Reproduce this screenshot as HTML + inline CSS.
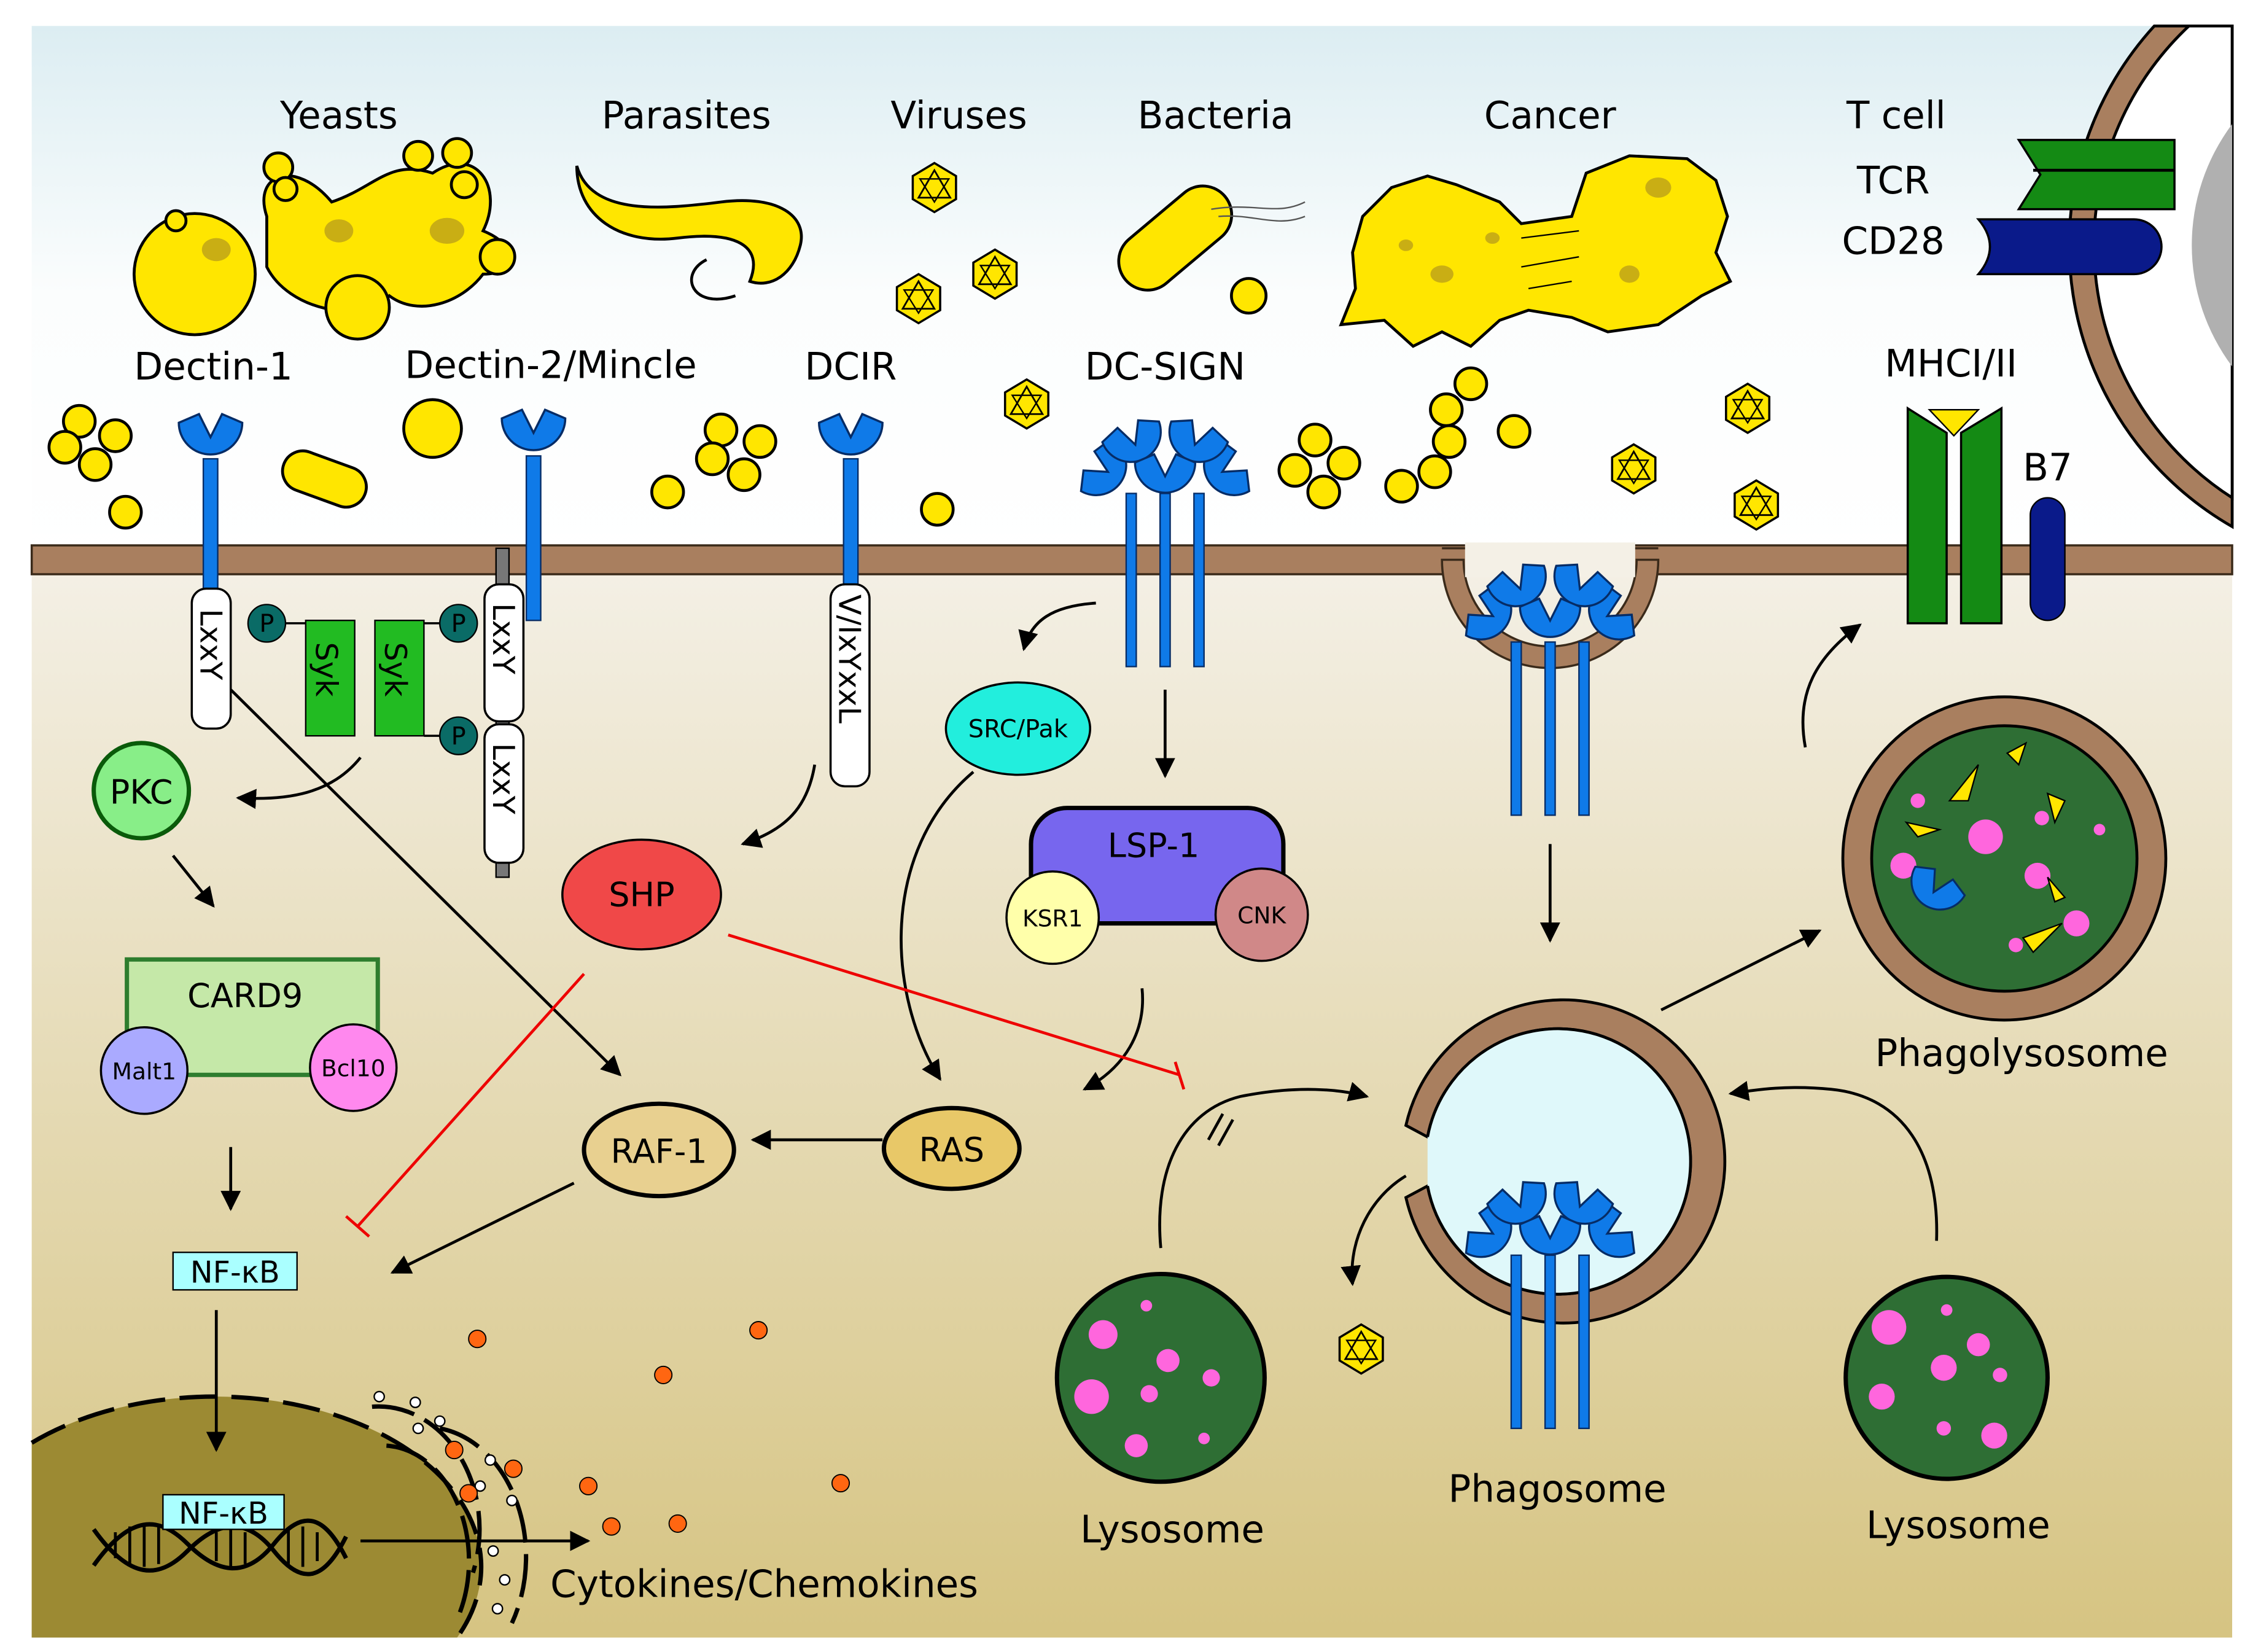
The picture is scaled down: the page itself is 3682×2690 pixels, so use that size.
<!DOCTYPE html>
<html><head><meta charset="utf-8"><style>
html,body{margin:0;padding:0;background:#fff;width:3682px;height:2690px;overflow:hidden;}
svg{display:block;}
text{font-family:"DejaVu Sans","Liberation Sans",sans-serif;}
</style></head><body>
<svg width="3682" height="2690" viewBox="0 0 1568 1145" preserveAspectRatio="none" xmlns="http://www.w3.org/2000/svg">
<defs>
<linearGradient id="top" x1="0" y1="0" x2="0" y2="1"><stop offset="0" stop-color="#dcedf2"/><stop offset="0.5" stop-color="#fbfdfd"/><stop offset="1" stop-color="#ffffff"/></linearGradient>
<linearGradient id="cyt" x1="0" y1="0" x2="0" y2="1"><stop offset="0" stop-color="#f4f0e6"/><stop offset="1" stop-color="#d6c482"/></linearGradient>
<marker id="ah" viewBox="0 0 10 10" refX="9" refY="5" markerWidth="7" markerHeight="7" orient="auto"><path d="M0,0L10,5L0,10z" fill="#000"/></marker>
<g id="vir"><polygon points="0,-17 15,-8 15,8 0,17 -15,8 -15,-8" fill="#ffe600" stroke="#000" stroke-width="1.5"/><polygon points="0,-12 11,7 -11,7" fill="none" stroke="#000" stroke-width="1.2"/><polygon points="0,10 -10,-6 10,-6" fill="none" stroke="#000" stroke-width="1"/></g>
<g id="head"><path d="M-22,-12 L-8,-18 L0,-2 L8,-18 L22,-12 A22,22 0 1 1 -22,-12z" fill="#0f7ae8" stroke="#062c66" stroke-width="1.5"/></g>
<g id="stem3"><rect x="-27" y="0" width="7" height="120" fill="#0f7ae8" stroke="#062c66"/><rect x="-3.5" y="0" width="7" height="120" fill="#0f7ae8" stroke="#062c66"/><rect x="20" y="0" width="7" height="120" fill="#0f7ae8" stroke="#062c66"/></g>
<g id="cluster"><use href="#head" transform="translate(-38,18) rotate(-60) scale(0.95)"/><use href="#head" transform="translate(38,18) rotate(60) scale(0.95)"/><use href="#head" transform="translate(-20,0) rotate(-20) scale(0.95)"/><use href="#head" transform="translate(20,0) rotate(20) scale(0.95)"/><use href="#head" transform="translate(0,22) scale(0.95)"/></g>
</defs>
<rect width="1568" height="1145" fill="#fff"/>
<rect x="22" y="18" width="1526" height="370" fill="url(#top)"/>
<rect x="22" y="388" width="1526" height="747" fill="url(#cyt)"/>
<!-- T cell -->
<path d="M1494,18 A225,225 0 0 0 1548,365 L1548,18 Z" fill="#a97f5f" stroke="#000" stroke-width="2"/>
<path d="M1518,18 A208,208 0 0 0 1548,345 L1548,18 Z" fill="#fff" stroke="#000" stroke-width="2"/>
<path d="M1548,86 A140,140 0 0 0 1548,254 Z" fill="#b0b0b0"/>
<!-- membrane -->
<rect x="22" y="378" width="1526" height="20" fill="#a97f5f" stroke="#3a2a1a" stroke-width="1.5"/>
<path d="M1000,388 A75,75 0 0 0 1150,388 L1135,388 A60,60 0 0 1 1015,388z" fill="#a97f5f" stroke="#3a2a1a" stroke-width="1.5"/>
<rect x="1016" y="376" width="118" height="24" fill="#f4f0e6"/>
<path d="M1000,380 L1016,380 M1134,380 L1150,380" stroke="#3a2a1a" stroke-width="1.5"/>
<!-- nucleus -->
<path d="M22,1135 L22,1000 A185,118 0 0 1 317,1135 Z" fill="#9c8a33"/>
<path d="M22,1000 A185,118 0 0 1 317,1135" fill="none" stroke="#000" stroke-width="3" stroke-dasharray="26,10"/>
<!-- golgi arcs -->
<g fill="none" stroke="#000" stroke-width="3" stroke-dasharray="30,8">
<path d="M258,975 A70,85 0 0 1 328,1090"/><path d="M268,1002 A60,80 0 0 1 318,1120"/><path d="M305,990 A70,90 0 0 1 355,1125"/></g>
<g fill="#fff" stroke="#000" stroke-width="1"><circle cx="263" cy="968" r="3.5"/><circle cx="288" cy="972" r="3.5"/><circle cx="305" cy="985" r="3.5"/><circle cx="290" cy="990" r="3.5"/><circle cx="340" cy="1012" r="3.5"/><circle cx="333" cy="1030" r="3.5"/><circle cx="355" cy="1040" r="3.5"/><circle cx="342" cy="1075" r="3.5"/><circle cx="350" cy="1095" r="3.5"/><circle cx="345" cy="1115" r="3.5"/></g>
<!-- DNA -->
<g stroke="#000" stroke-width="3" fill="none"><path d="M65,1085 C90,1050 110,1050 130,1070 S170,1095 190,1070 S225,1050 240,1080"/><path d="M65,1060 C90,1095 110,1095 130,1075 S170,1050 190,1075 S225,1095 240,1065"/></g>
<g stroke="#000" stroke-width="2"><path d="M80,1062V1080M90,1058V1084M100,1056V1086M110,1058V1084M150,1062V1082M160,1060V1086M170,1062V1084M200,1060V1084M210,1058V1086M220,1062V1082"/></g>
<rect x="113" y="1036" width="84" height="24" fill="#aaffff" stroke="#000"/><text x="155" y="1056" font-size="21" text-anchor="middle">NF-κB</text>
<!-- labels top -->
<g font-size="26" text-anchor="middle"><text x="235" y="89">Yeasts</text><text x="476" y="89">Parasites</text><text x="665" y="89">Viruses</text><text x="843" y="89">Bacteria</text><text x="1075" y="89">Cancer</text><text x="1315" y="89">T cell</text><text x="1313" y="134">TCR</text><text x="1313" y="176">CD28</text>
<text x="148" y="263">Dectin-1</text><text x="382" y="262">Dectin-2/Mincle</text><text x="590" y="263">DCIR</text><text x="808" y="263">DC-SIGN</text><text x="1353" y="261">MHCI/II</text><text x="1420" y="333">B7</text></g>
<!-- TCR, CD28 -->
<path d="M1400,97 L1508,97 L1508,145 L1400,145 L1415,121z" fill="#148a14" stroke="#000" stroke-width="1.5"/><line x1="1410" y1="118" x2="1508" y2="118" stroke="#000" stroke-width="2"/>
<path d="M1372,152 L1480,152 A18,18 0 0 1 1480,190 L1372,190 Q1388,171 1372,152z" fill="#0a1a8a" stroke="#000" stroke-width="1.5"/>
<!-- MHC -->
<path d="M1323,283 L1350,300 L1350,432 L1323,432z M1388,283 L1360,300 L1360,432 L1388,432z" fill="#148a14" stroke="#000" stroke-width="1.5"/>
<polygon points="1338,284 1372,284 1355,302" fill="#ffe600" stroke="#000"/>
<rect x="1408" y="345" width="24" height="85" rx="12" fill="#0a1a8a" stroke="#000"/>
<!-- yeasts etc -->
<g fill="#ffe600" stroke="#000" stroke-width="2">
<circle cx="135" cy="190" r="42"/><circle cx="122" cy="153" r="7"/>
<path d="M185,150 C175,120 205,110 230,140 C260,130 270,110 300,120 C330,100 350,130 335,160 C360,170 360,190 335,190 C320,210 290,220 270,205 C250,225 200,215 185,185z"/>
<circle cx="248" cy="213" r="22"/><circle cx="193" cy="116" r="10"/><circle cx="198" cy="131" r="8"/><circle cx="290" cy="108" r="10"/><circle cx="317" cy="106" r="10"/><circle cx="345" cy="178" r="12"/><circle cx="322" cy="128" r="9"/>
<path d="M400,115 C410,150 460,145 500,140 C540,135 560,150 555,170 C550,190 535,200 520,195 C530,170 510,160 470,165 C430,170 400,150 400,115z"/>
<rect x="770" y="145" width="90" height="40" rx="20" transform="rotate(-40 815 165)"/>
<circle cx="866" cy="205" r="12"/>
<path d="M945,150 L965,130 L990,122 L1010,128 L1040,140 L1055,155 L1090,150 L1100,120 L1130,108 L1170,110 L1190,125 L1198,150 L1190,175 L1200,195 L1180,205 L1150,225 L1115,230 L1090,220 L1060,215 L1040,222 L1020,240 L1000,230 L980,240 L960,222 L930,225 L940,200 L938,175z"/>
<rect x="195" y="318" width="60" height="28" rx="14" transform="rotate(20 225 332)"/>
<circle cx="300" cy="297" r="20"/>
</g>
<g fill="#c9ae14"><ellipse cx="150" cy="173" rx="10" ry="8"/><ellipse cx="235" cy="160" rx="10" ry="8"/><ellipse cx="310" cy="160" rx="12" ry="9"/><ellipse cx="1000" cy="190" rx="8" ry="6"/><ellipse cx="1150" cy="130" rx="9" ry="7"/><ellipse cx="1130" cy="190" rx="7" ry="6"/><ellipse cx="975" cy="170" rx="5" ry="4"/><ellipse cx="1035" cy="165" rx="5" ry="4"/></g>
<path d="M490,180 C470,190 480,215 510,205" fill="none" stroke="#000" stroke-width="2"/>
<path d="M840,145 C870,140 885,150 905,140 M845,150 C870,148 885,158 905,150" fill="none" stroke="#555" stroke-width="1"/>
<path d="M1055,165 L1095,160 M1055,185 L1095,178 M1060,200 L1090,195" stroke="#000"/>
<!-- free yellow circles -->
<g fill="#ffe600" stroke="#000" stroke-width="2">
<circle cx="55" cy="292" r="11"/><circle cx="80" cy="302" r="11"/><circle cx="45" cy="310" r="11"/><circle cx="66" cy="322" r="11"/><circle cx="87" cy="355" r="11"/>
<circle cx="463" cy="341" r="11"/><circle cx="500" cy="298" r="11"/><circle cx="527" cy="306" r="11"/><circle cx="494" cy="318" r="11"/><circle cx="516" cy="329" r="11"/><circle cx="650" cy="353" r="11"/>
<circle cx="912" cy="305" r="11"/><circle cx="932" cy="321" r="11"/><circle cx="898" cy="326" r="11"/><circle cx="918" cy="341" r="11"/>
<circle cx="1020" cy="266" r="11"/><circle cx="1003" cy="284" r="11"/><circle cx="1050" cy="299" r="11"/><circle cx="1005" cy="306" r="11"/><circle cx="995" cy="327" r="11"/><circle cx="972" cy="337" r="11"/></g>
<g><use href="#vir" x="648" y="130"/><use href="#vir" x="637" y="207"/><use href="#vir" x="690" y="190"/><use href="#vir" x="712" y="280"/><use href="#vir" x="1212" y="283"/><use href="#vir" x="1133" y="325"/><use href="#vir" x="1218" y="350"/><use href="#vir" x="1045" y="772"/><use href="#vir" x="944" y="935"/></g>
<!-- receptors -->
<rect x="141" y="318" width="10" height="92" fill="#0f7ae8" stroke="#062c66"/><use href="#head" x="146" y="305"/>
<rect x="365" y="316" width="10" height="114" fill="#0f7ae8" stroke="#062c66"/><use href="#head" x="370" y="302"/>
<rect x="585" y="318" width="10" height="92" fill="#0f7ae8" stroke="#062c66"/><use href="#head" x="590" y="305"/>
<rect x="344" y="380" width="9" height="228" fill="#777" stroke="#000"/>
<g fill="#fff" stroke="#000" stroke-width="1.5"><rect x="133" y="408" width="27" height="97" rx="10"/><rect x="336" y="405" width="27" height="95" rx="10"/><rect x="336" y="502" width="27" height="96" rx="10"/><rect x="576" y="405" width="27" height="140" rx="10"/></g>
<g font-size="21"><text transform="translate(139,422) rotate(90)">LxxY</text><text transform="translate(342,418) rotate(90)">LxxY</text><text transform="translate(342,515) rotate(90)">LxxY</text><text transform="translate(582,412) rotate(90)">V/IxYxxL</text></g>
<use href="#stem3" x="808" y="342"/><use href="#cluster" x="808" y="310"/>
<use href="#stem3" x="1075" y="445"/><use href="#cluster" x="1075" y="410"/>
<!-- Syk, P -->
<rect x="212" y="430" width="34" height="80" fill="#22bb22" stroke="#000"/><rect x="260" y="430" width="34" height="80" fill="#22bb22" stroke="#000"/>
<g font-size="21"><text transform="translate(219,445) rotate(90)">Syk</text><text transform="translate(267,445) rotate(90)">Syk</text></g>
<path d="M198,432H212M294,432H305M294,510H305" stroke="#000" stroke-width="1.5"/>
<g fill="#0a6b66" stroke="#000"><circle cx="185" cy="432" r="13"/><circle cx="318" cy="432" r="13"/><circle cx="318" cy="510" r="13"/></g>
<g font-size="17" text-anchor="middle"><text x="185" y="438">P</text><text x="318" y="438">P</text><text x="318" y="516">P</text></g>
<!-- pathway nodes -->
<circle cx="98" cy="548" r="33" fill="#88ee88" stroke="#0a5a0a" stroke-width="3"/><text x="98" y="557" font-size="23" text-anchor="middle">PKC</text>
<rect x="88" y="665" width="174" height="80" fill="#c5e8a8" stroke="#2e7d2e" stroke-width="3"/><text x="170" y="698" font-size="23" text-anchor="middle">CARD9</text>
<circle cx="100" cy="742" r="30" fill="#aaaaff" stroke="#000" stroke-width="1.5"/><text x="100" y="748" font-size="16" text-anchor="middle">Malt1</text>
<circle cx="245" cy="740" r="30" fill="#ff88ee" stroke="#000" stroke-width="1.5"/><text x="245" y="746" font-size="16" text-anchor="middle">Bcl10</text>
<rect x="120" y="868" width="86" height="26" fill="#aaffff" stroke="#000"/><text x="163" y="889" font-size="21" text-anchor="middle">NF-κB</text>
<ellipse cx="445" cy="620" rx="55" ry="38" fill="#f04848" stroke="#000" stroke-width="1.5"/><text x="445" y="628" font-size="23" text-anchor="middle">SHP</text>
<ellipse cx="706" cy="505" rx="50" ry="32" fill="#22eedd" stroke="#000" stroke-width="1.5"/><text x="706" y="511" font-size="17" text-anchor="middle">SRC/Pak</text>
<rect x="715" y="560" width="175" height="80" rx="25" fill="#7766ee" stroke="#000" stroke-width="3"/><text x="800" y="594" font-size="23" text-anchor="middle">LSP-1</text>
<circle cx="730" cy="636" r="32" fill="#ffffaa" stroke="#000" stroke-width="1.5"/><text x="730" y="642" font-size="16" text-anchor="middle">KSR1</text>
<circle cx="875" cy="634" r="32" fill="#d08888" stroke="#000" stroke-width="1.5"/><text x="875" y="640" font-size="16" text-anchor="middle">CNK</text>
<ellipse cx="660" cy="796" rx="47" ry="28" fill="#e8c868" stroke="#000" stroke-width="3"/><text x="660" y="805" font-size="23" text-anchor="middle">RAS</text>
<ellipse cx="457" cy="797" rx="52" ry="32" fill="#e8d090" stroke="#000" stroke-width="3"/><text x="457" y="806" font-size="23" text-anchor="middle">RAF-1</text>
<!-- arrows -->
<g stroke="#000" stroke-width="2" fill="none" marker-end="url(#ah)">
<path d="M250,525 C230,550 200,555 165,553"/><path d="M120,593 L148,628"/><path d="M160,795 L160,838"/><path d="M150,908 L150,1005"/><path d="M160,478 L430,745"/>
<path d="M565,530 C560,560 545,575 515,585"/><path d="M760,418 C730,420 715,430 710,450"/><path d="M808,478 L808,538"/><path d="M675,535 C610,590 615,690 652,748"/>
<path d="M792,685 C795,715 780,740 752,755"/><path d="M612,790 L522,790"/><path d="M398,820 L272,882"/>
<path d="M250,1068 L408,1068"/><path d="M1075,585 L1075,652"/>
<path d="M805,865 C800,810 820,770 860,760 C900,752 930,755 948,760"/>
<path d="M975,815 C950,830 935,860 938,890"/>
<path d="M1343,860 C1345,800 1320,760 1270,755 C1240,752 1220,755 1200,758"/>
<path d="M1152,700 L1262,645"/><path d="M1252,518 C1245,480 1260,455 1290,433"/></g>
<path d="M838,790 L848,772 M845,794 L855,776" stroke="#000" stroke-width="2"/>
<g stroke="#e00" stroke-width="2" fill="none"><path d="M505,648 L818,745"/><path d="M815,736 L821,755"/><path d="M405,675 L248,850"/><path d="M240,843 L256,857"/></g>
<!-- cytokine dots -->
<g fill="#ff6611" stroke="#000" stroke-width="0.8"><circle cx="331" cy="928" r="6"/><circle cx="460" cy="953" r="6"/><circle cx="526" cy="922" r="6"/><circle cx="315" cy="1005" r="6"/><circle cx="356" cy="1018" r="6"/><circle cx="408" cy="1030" r="6"/><circle cx="325" cy="1035" r="6"/><circle cx="424" cy="1058" r="6"/><circle cx="470" cy="1056" r="6"/><circle cx="583" cy="1028" r="6"/></g>
<!-- phagosome -->
<path d="M975,780 A112,112 0 1 1 975,830 L990,822 A92,92 0 1 0 990,788z" fill="#a97f5f" stroke="#000" stroke-width="2"/>
<path d="M990,788 A92,92 0 1 1 990,822z" fill="#dff8fa"/>
<path d="M990,788 A92,92 0 1 1 990,822" fill="none" stroke="#000" stroke-width="2"/>
<use href="#stem3" x="1075" y="870"/><use href="#cluster" x="1075" y="838"/>
<!-- phagolysosome -->
<circle cx="1390" cy="595" r="112" fill="#a97f5f" stroke="#000" stroke-width="2"/><circle cx="1390" cy="595" r="92" fill="#2e6e34" stroke="#000" stroke-width="2"/>
<g fill="#ff66dd"><circle cx="1377" cy="580" r="12"/><circle cx="1320" cy="600" r="9"/><circle cx="1413" cy="607" r="9"/><circle cx="1440" cy="640" r="9"/><circle cx="1330" cy="555" r="5"/><circle cx="1398" cy="655" r="5"/><circle cx="1416" cy="567" r="5"/><circle cx="1456" cy="575" r="4"/></g>
<g fill="#ffe600" stroke="#000"><polygon points="1352,555 1372,530 1365,555"/><polygon points="1322,570 1345,575 1330,580"/><polygon points="1392,522 1405,515 1400,530"/><polygon points="1420,550 1432,555 1425,570"/><polygon points="1403,650 1430,640 1410,660"/><polygon points="1420,608 1432,622 1425,625"/></g>
<use href="#head" transform="translate(1340,620) rotate(30) scale(0.9)"/>
<!-- lysosomes -->
<circle cx="805" cy="955" r="72" fill="#2e6e34" stroke="#000" stroke-width="3"/>
<g fill="#ff66dd"><circle cx="765" cy="925" r="10"/><circle cx="810" cy="943" r="8"/><circle cx="757" cy="968" r="12"/><circle cx="797" cy="966" r="6"/><circle cx="840" cy="955" r="6"/><circle cx="788" cy="1002" r="8"/><circle cx="835" cy="997" r="4"/><circle cx="795" cy="905" r="4"/></g>
<circle cx="1350" cy="955" r="70" fill="#2e6e34" stroke="#000" stroke-width="3"/>
<g fill="#ff66dd"><circle cx="1310" cy="920" r="12"/><circle cx="1372" cy="932" r="8"/><circle cx="1348" cy="948" r="9"/><circle cx="1387" cy="953" r="5"/><circle cx="1305" cy="968" r="9"/><circle cx="1383" cy="995" r="9"/><circle cx="1348" cy="990" r="5"/><circle cx="1350" cy="908" r="4"/></g>
<g font-size="26" text-anchor="middle"><text x="1402" y="739">Phagolysosome</text><text x="1080" y="1041">Phagosome</text><text x="813" y="1069">Lysosome</text><text x="1358" y="1066">Lysosome</text><text x="530" y="1107">Cytokines/Chemokines</text></g>
</svg>
</body></html>
